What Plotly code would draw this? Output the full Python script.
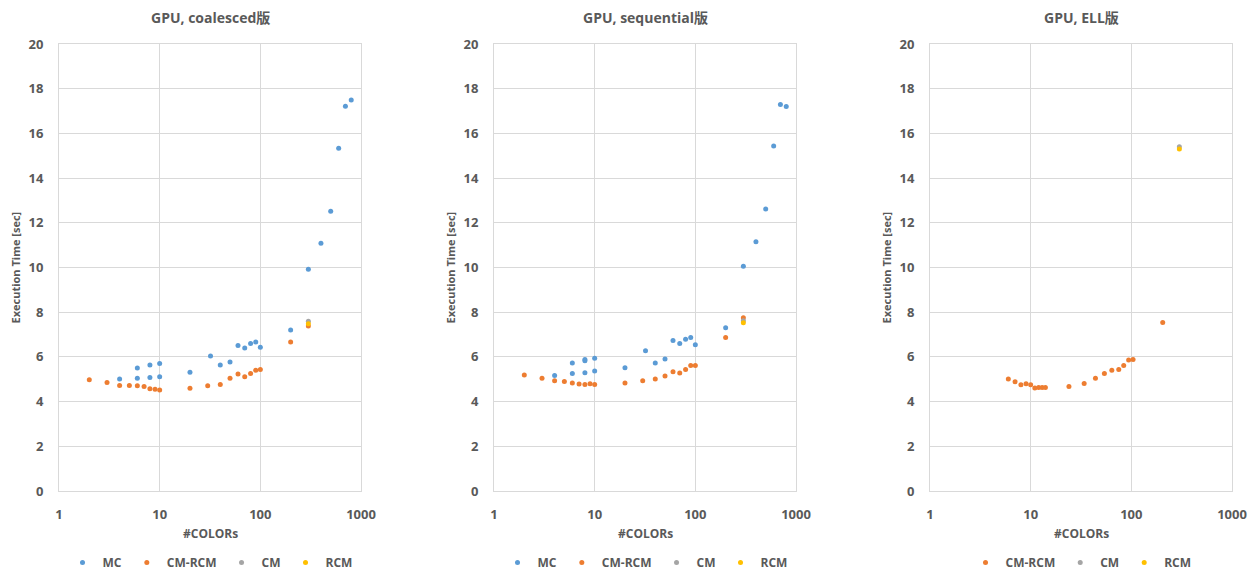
import plotly.graph_objects as go

# ---------------- data ----------------
titles = ["GPU, coalesced版", "GPU, sequential版", "GPU, ELL版"]
series_names = ["MC", "CM-RCM", "CM", "RCM"]
x_tick_vals = [1, 10, 100, 1000]
x_tick_text = ["1", "10", "100", "1000"]

# Panel 1: coalesced
mc1_x = [4, 6, 6, 8, 8, 10, 10, 20, 32, 40, 50, 60, 70, 80, 90, 100, 200, 300, 400, 500, 600, 700, 800]
mc1_y = [5.01, 5.04, 5.50, 5.08, 5.64, 5.11, 5.70, 5.31, 6.04, 5.64, 5.77, 6.51, 6.40, 6.60, 6.67, 6.43, 7.20, 9.92, 11.08, 12.52, 15.33, 17.22, 17.49]
cmrcm1_x = [2, 3, 4, 5, 6, 7, 8, 9, 10, 20, 30, 40, 50, 60, 70, 80, 90, 100, 200, 300]
cmrcm1_y = [4.98, 4.85, 4.72, 4.72, 4.71, 4.68, 4.58, 4.55, 4.52, 4.60, 4.71, 4.77, 5.04, 5.24, 5.11, 5.26, 5.40, 5.44, 6.67, 7.38]
cm1_x = [300]
cm1_y = [7.60]
rcm1_x = [300]
rcm1_y = [7.48]

# Panel 2: sequential
mc2_x = [4, 6, 6, 8, 8, 8, 10, 10, 20, 32, 40, 50, 60, 70, 80, 90, 100, 200, 300, 400, 500, 600, 700, 800]
mc2_y = [5.17, 5.26, 5.73, 5.29, 5.83, 5.88, 5.37, 5.94, 5.51, 6.27, 5.73, 5.91, 6.73, 6.60, 6.79, 6.87, 6.54, 7.30, 10.06, 11.15, 12.62, 15.44, 17.29, 17.20]
cmrcm2_x = [2, 3, 4, 5, 6, 7, 8, 9, 10, 20, 30, 40, 50, 60, 70, 80, 90, 100, 200, 300]
cmrcm2_y = [5.19, 5.04, 4.93, 4.90, 4.83, 4.79, 4.77, 4.80, 4.77, 4.83, 4.93, 5.01, 5.15, 5.34, 5.28, 5.44, 5.61, 5.61, 6.87, 7.75]
cm2_x = [300]
cm2_y = [7.62]
rcm2_x = [300]
rcm2_y = [7.53]

# Panel 3: ELL
cmrcm3_x = [6, 7, 8, 9, 10, 11, 12, 13, 14, 24, 34, 44, 54, 64, 75, 84, 94, 104, 205]
cmrcm3_y = [5.01, 4.89, 4.75, 4.80, 4.75, 4.61, 4.63, 4.63, 4.63, 4.68, 4.81, 5.04, 5.26, 5.40, 5.44, 5.62, 5.86, 5.88, 7.54]
cm3_x = [300]
cm3_y = [15.40]
rcm3_x = [300]
rcm3_y = [15.30]

colors = {"MC": "#5B9BD5", "CM-RCM": "#ED7D31", "CM": "#A5A5A5", "RCM": "#FFC000"}

panels = [
    {"MC": (mc1_x, mc1_y), "CM-RCM": (cmrcm1_x, cmrcm1_y), "CM": (cm1_x, cm1_y), "RCM": (rcm1_x, rcm1_y)},
    {"MC": (mc2_x, mc2_y), "CM-RCM": (cmrcm2_x, cmrcm2_y), "CM": (cm2_x, cm2_y), "RCM": (rcm2_x, rcm2_y)},
    {"CM-RCM": (cmrcm3_x, cmrcm3_y), "CM": (cm3_x, cm3_y), "RCM": (rcm3_x, rcm3_y)},
]

# ---------------- layout geometry ----------------
W, H = 1257, 573
x_domains = [(59 / W, 361 / W), (494 / W, 796 / W), (930 / W, 1232 / W)]
y_domain = (1 - 491 / H, 1 - 44 / H)

FONT = "Open Sans, Noto Sans CJK JP, sans-serif"
TXT = "#595959"
GRID = "#D9D9D9"

fig = go.Figure()
legend_names = ["legend", "legend2", "legend3"]

for i, pdata in enumerate(panels):
    sfx = "" if i == 0 else str(i + 1)
    for name in series_names:
        if name not in pdata:
            continue
        xs, ys = pdata[name]
        fig.add_trace(go.Scatter(
            x=xs, y=ys, mode="markers", name=name,
            marker=dict(color=colors[name], size=5),
            xaxis="x" + sfx, yaxis="y" + sfx,
            legend=legend_names[i],
        ))

layout = dict(
    width=W, height=H,
    margin=dict(l=0, r=0, t=0, b=0, autoexpand=False),
    paper_bgcolor="white", plot_bgcolor="white",
    font=dict(family=FONT, color=TXT, size=12),
    showlegend=True,
)

annotations = []
for i in range(3):
    sfx = "" if i == 0 else str(i + 1)
    dom = x_domains[i]
    layout["xaxis" + sfx] = dict(
        type="log", range=[0, 3], domain=list(dom), anchor="y" + sfx,
        tickvals=x_tick_vals, ticktext=x_tick_text,
        showgrid=True, gridcolor=GRID, gridwidth=1,
        showline=True, linecolor=GRID, mirror=True,
        zeroline=False, ticks="", ticklabelstandoff=11,
        tickfont=dict(family=FONT, size=13, color=TXT, weight="bold"),
        fixedrange=True, automargin=False,
    )
    layout["yaxis" + sfx] = dict(
        range=[0, 20], dtick=2, domain=list(y_domain), anchor="x" + sfx,
        showgrid=True, gridcolor=GRID, gridwidth=1,
        showline=True, linecolor=GRID, mirror=True,
        zeroline=False, ticks="", ticklabelstandoff=12,
        tickfont=dict(family=FONT, size=13, color=TXT, weight="bold"),
        fixedrange=True, automargin=False,
    )
    cx = (dom[0] + dom[1]) / 2
    # title
    annotations.append(dict(
        text="<b>" + titles[i] + "</b>", x=cx, y=1 - 17 / H, xref="paper", yref="paper",
        xanchor="center", yanchor="middle", showarrow=False,
        font=dict(family=FONT, size=14, color=TXT),
    ))
    # x axis title
    annotations.append(dict(
        text="<b>#COLORs</b>", x=cx, y=1 - 533 / H, xref="paper", yref="paper",
        xanchor="center", yanchor="middle", showarrow=False,
        font=dict(family=FONT, size=12, color=TXT),
    ))
    # y axis title
    annotations.append(dict(
        text="<b>Execution Time [sec]</b>", x=(dom[0] * W - 44) / W,
        y=(y_domain[0] + y_domain[1]) / 2, xref="paper", yref="paper",
        xanchor="center", yanchor="middle", showarrow=False, textangle=-90,
        font=dict(family=FONT, size=11, color=TXT),
    ))
    layout[legend_names[i]] = dict(
        orientation="h", x=cx, y=-4 / H, xanchor="center", yanchor="bottom",
        font=dict(family=FONT, size=12, color=TXT, weight="bold"),
        itemwidth=30, bgcolor="rgba(0,0,0,0)", tracegroupgap=0,
    )

layout["annotations"] = annotations
fig.update_layout(**layout)

fig.write_html("out.html")
